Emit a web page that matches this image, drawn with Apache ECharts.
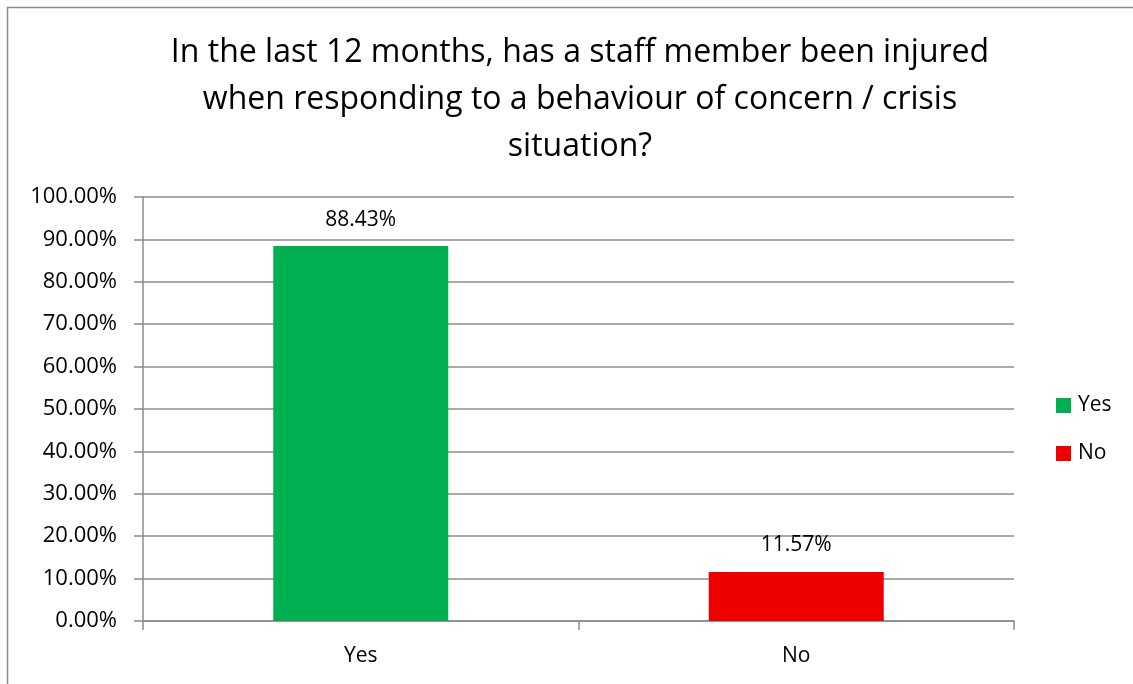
<!DOCTYPE html>
<html>
<head>
<meta charset="utf-8">
<script src="https://cdn.jsdelivr.net/npm/echarts@6/dist/echarts.min.js"></script>
<style>
  html, body { margin: 0; padding: 0; background: #fff; }
  #chart { width: 1133px; height: 684px; }
</style>
</head>
<body>
<div id="chart"></div>
<script>
// Survey answers: share of respondents per answer
const categories = ['Yes', 'No'];
const yesValues = [88.43, '-'];
const noValues = ['-', 11.57];
const yTicks = [0, 10, 20, 30, 40, 50, 60, 70, 80, 90, 100];

const FONT = '"Open Sans", "Noto Sans", Arial, sans-serif';
const AXIS_GREY = '#8c8c8c';

const chart = echarts.init(document.getElementById('chart'));

function barLabel() {
  return {
    show: true,
    position: 'top',
    distance: 16,
    color: '#000',
    fontFamily: FONT,
    fontSize: 21,
    formatter: p => p.value.toFixed(2) + '%'
  };
}

chart.setOption({
  animation: false,
  backgroundColor: '#fff',
  title: {
    text: 'In the last 12 months, has a staff member been injured\nwhen responding to a behaviour of concern / crisis\nsituation?',
    left: 575,
    top: 24,
    textAlign: 'center',
    textStyle: {
      fontFamily: FONT,
      fontWeight: 'normal',
      fontSize: 32,
      lineHeight: 47,
      color: '#000'
    }
  },
  legend: {
    orient: 'vertical',
    left: 1051,
    top: 390,
    itemWidth: 15,
    itemHeight: 15,
    itemGap: 27,
    icon: 'rect',
    textStyle: { fontFamily: FONT, fontSize: 21, color: '#000', padding: [0, 0, 0, 2] },
    data: ['Yes', 'No']
  },
  grid: { left: 143, right: 119, top: 197, bottom: 63 },
  xAxis: {
    type: 'category',
    data: categories,
    axisLine: { lineStyle: { color: AXIS_GREY, width: 1.5 } },
    axisTick: { show: true, length: 9, lineStyle: { color: AXIS_GREY, width: 1.5 } },
    axisLabel: { fontFamily: FONT, fontSize: 21, color: '#000', margin: 25 }
  },
  yAxis: {
    type: 'value',
    min: yTicks[0],
    max: yTicks[yTicks.length - 1],
    interval: 10,
    axisLine: { show: true, lineStyle: { color: AXIS_GREY, width: 1.5 } },
    axisTick: { show: true, length: 9, lineStyle: { color: AXIS_GREY, width: 1.5 } },
    splitLine: { lineStyle: { color: AXIS_GREY, width: 1.5 } },
    axisLabel: {
      fontFamily: FONT,
      fontSize: 22,
      color: '#000',
      margin: 26,
      formatter: v => v.toFixed(2) + '%'
    }
  },
  series: [
    {
      name: 'Yes',
      type: 'bar',
      data: yesValues,
      barWidth: 175,
      barGap: '-100%',
      itemStyle: { color: '#00B050' },
      label: barLabel()
    },
    {
      name: 'No',
      type: 'bar',
      data: noValues,
      barWidth: 175,
      barGap: '-100%',
      itemStyle: { color: '#EE0000' },
      label: barLabel()
    }
  ],
  graphic: [
    {
      type: 'rect',
      shape: { x: 7.5, y: 7.5, width: 1140, height: 700 },
      style: { fill: 'none', stroke: AXIS_GREY, lineWidth: 1.5 },
      silent: true
    }
  ]
});
</script>
</body>
</html>
